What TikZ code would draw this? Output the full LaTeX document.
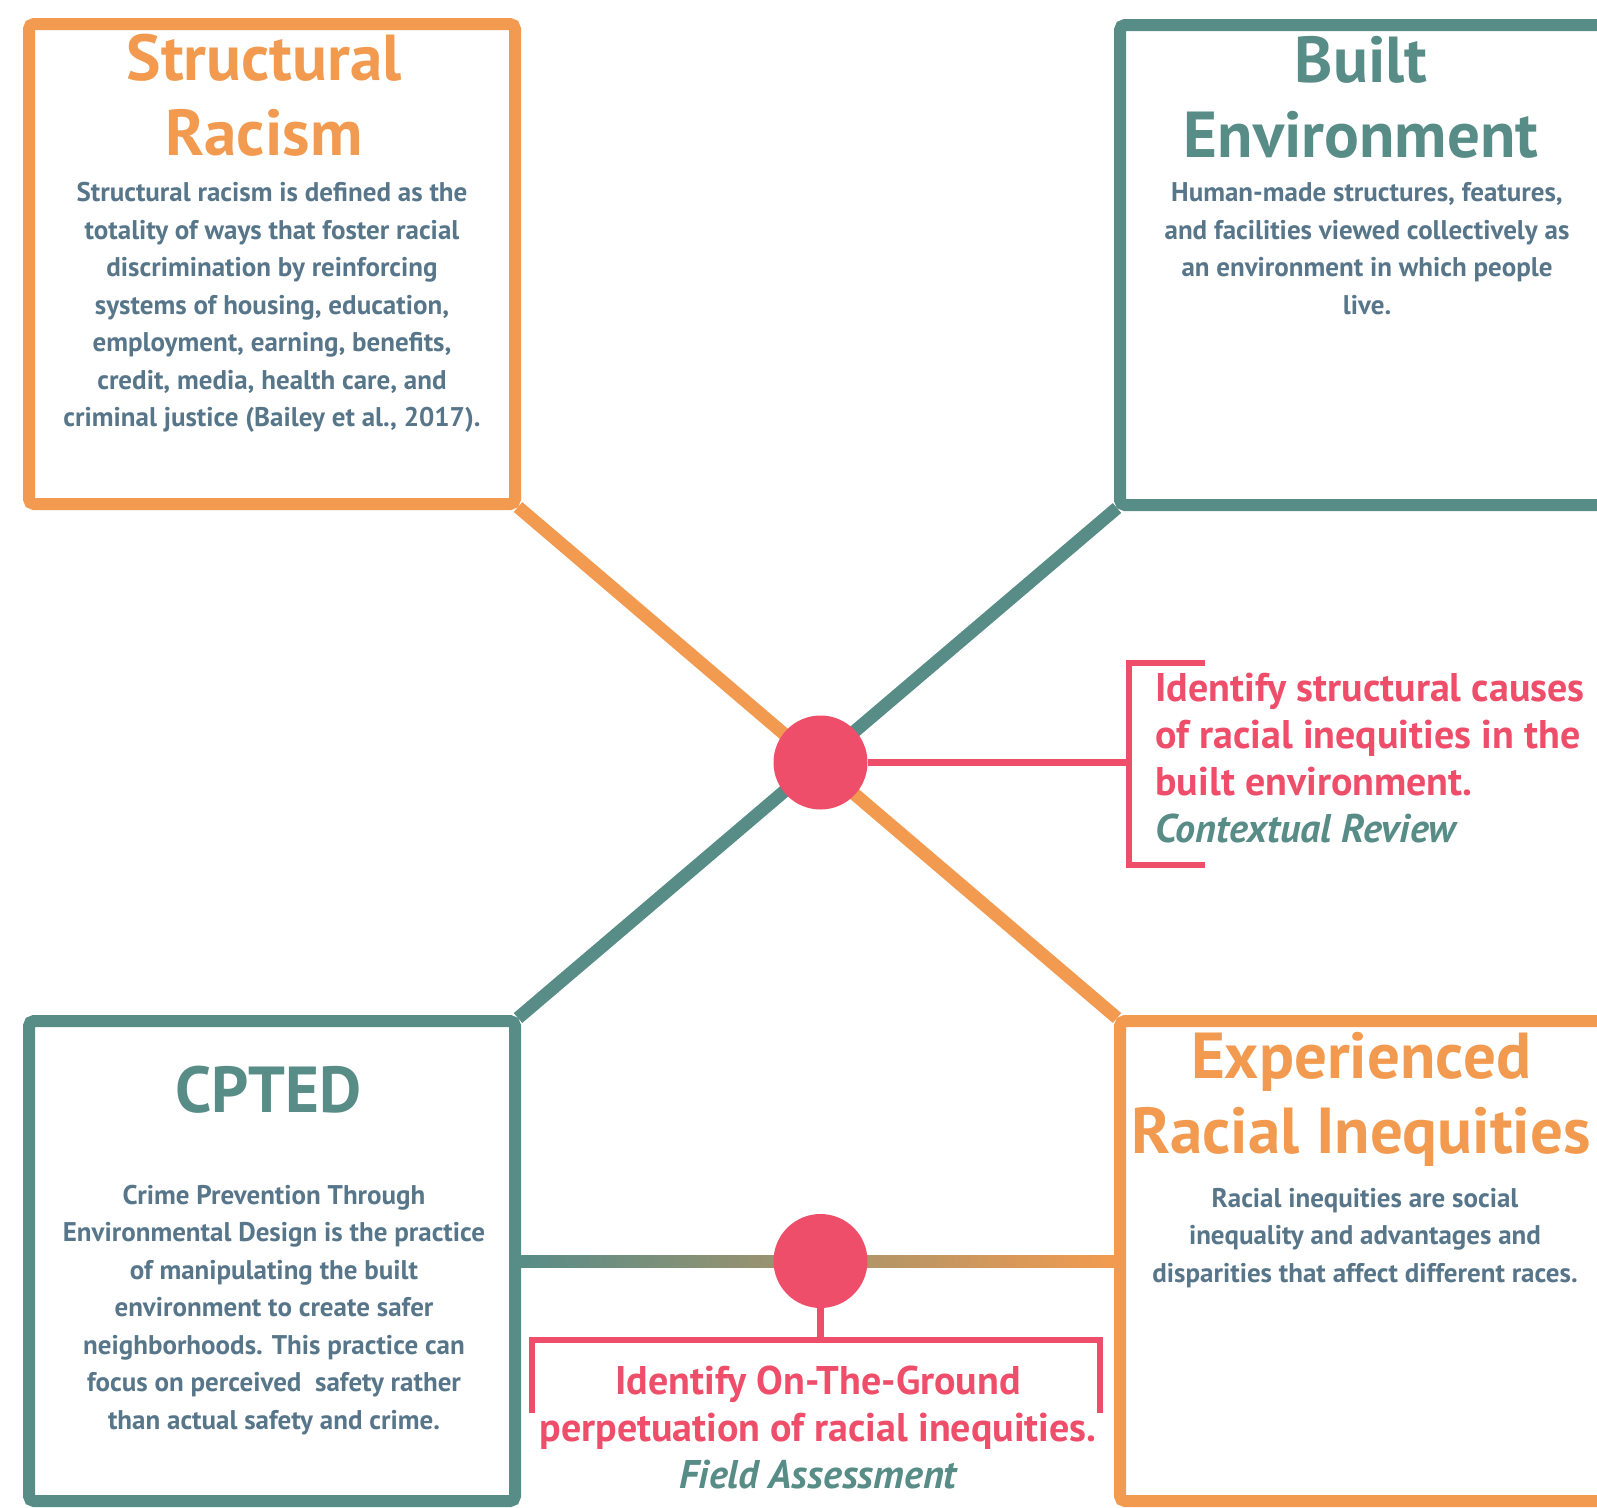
\documentclass[tikz,border=0pt]{standalone}
\usepackage{fontspec}
\setmainfont{PT Sans}
\usetikzlibrary{calc,positioning}
\definecolor{brorange}{HTML}{F29B50}
\definecolor{brteal}{HTML}{588C87}
\definecolor{brpink}{HTML}{EF4E6A}
\definecolor{brslate}{HTML}{58768A}

\begin{document}
\begin{tikzpicture}[
  x=1pt, y=-1pt,
  panel/.style={draw, line width=12pt, rounded corners=5pt, minimum width=486pt,
    minimum height=480pt, inner sep=0pt},
  spoke/.style={line width=13pt},
  hubdot/.style={circle, fill=brpink, minimum size=94pt, inner sep=0pt},
  title/.style={anchor=base, align=center, font=\bfseries\fontsize{65}{74.5}\selectfont},
  body/.style={anchor=base, align=center, text=brslate, font=\bfseries\fontsize{27}{37.5}\selectfont},
  aim/.style={anchor=base, text=brpink, font=\bfseries\fontsize{40}{46.7}\selectfont},
  bracket/.style={draw=brpink, line width=6.5pt}
]
  \useasboundingbox (0,0) rectangle (1597,1507);
  \clip (0,0) rectangle (1597,1507);

  % four panels
  \node[panel, draw=brorange] (srbox) at (272,264) {};
  \node[panel, draw=brteal] (bebox) at (1363,265) {};
  \node[panel, draw=brteal] (cpbox) at (272,1261) {};
  \node[panel, draw=brorange] (eribox) at (1363,1261) {};

  % spokes through the hub
  \draw[spoke, brorange] ($(srbox.south east)+(-3,-3)$) -- ($(eribox.north west)+(3,3)$);
  \draw[spoke, brteal] ($(bebox.south west)+(3,-3)$) -- ($(cpbox.north east)+(-3,3)$);
  \shade[left color=brteal, right color=brorange]
    ($(cpbox.east)+(0,-6)$) rectangle ($(eribox.west)+(0,6)$);

  \node[hubdot] (hub) at ($(srbox.south east)!.5!(eribox.north west)+(3,0)$) {};
  \node[hubdot] (fieldhub) at ($(cpbox.east)!.5!(eribox.west)+(3,0)$) {};

  % right bracket
  \coordinate (rbtop) at (1129,663);
  \coordinate (rbbot) at (1129,865);
  \draw[bracket] (hub) -- (hub -| rbtop);
  \draw[bracket] ($(rbtop)+(76,0)$) -- (rbtop) -- (rbbot) -- ($(rbbot)+(76,0)$);

  % bottom bracket
  \coordinate (lbleft) at (532,1340);
  \coordinate (lbright) at (1100,1340);
  \draw[bracket] (fieldhub) -- (fieldhub |- lbleft);
  \draw[bracket] ($(lbleft)+(0,73)$) -- (lbleft) -- (lbright) -- ($(lbright)+(0,73)$);

  % texts (base = last line)
  \node[title, text=brorange] (srtitle) at (264,155) {Structural\\Racism};
  \node[body] (srtext) at (272,426.7) {Structural racism is defined as the\\
    totality of ways that foster racial\\discrimination by reinforcing\\
    systems of housing, education,\\employment, earning, benefits,\\
    credit, media, health care, and\\criminal justice (Bailey et al., 2017).};

  \node[title, text=brteal] (betitle) at (1361,157) {Built\\Environment};
  \node[body] (betext) at (1367,314) {Human-made structures, features,\\
    and facilities viewed collectively as\\an environment in which people\\live.};

  \node[title, text=brteal] (cptitle) at (268.6,1112) {CPTED};
  \node[body] (cptext) at (274,1429) {Crime Prevention Through\\
    Environmental Design is the practice\\of manipulating the built\\
    environment to create safer\\neighborhoods. This practice can\\
    focus on perceived\ \ safety rather\\than actual safety and crime.};

  \node[title, text=brorange] (erititle) at (1361,1153) {Experienced\\Racial Inequities};
  \node[body] (eritext) at (1365,1282) {Racial inequities are social\\
    inequality and advantages and\\disparities that affect different races.};

  \node[aim, anchor=base west, align=left] (reviewaim) at (1152,842)
    {Identify structural causes\\of racial inequities in the\\built environment.\\
    {\color{brteal}\itshape Contextual Review}};
  \node[aim, align=center] (fieldaim) at (818,1488)
    {Identify On-The-Ground\\perpetuation of racial inequities.\\
    {\color{brteal}\itshape Field Assessment}};

\end{tikzpicture}
\end{document}
